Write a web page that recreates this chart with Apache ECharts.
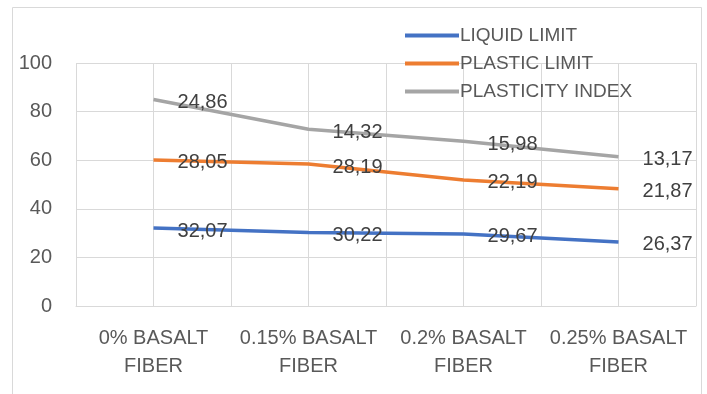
<!DOCTYPE html>
<html>
<head>
<meta charset="utf-8">
<script src="https://cdn.jsdelivr.net/npm/echarts@6/dist/echarts.min.js"></script>
<style>html,body{margin:0;padding:0;background:#fff}#c{width:707px;height:394px}</style>
</head>
<body>
<div id="c"></div>
<script>
var categories = ['0% BASALT\nFIBER', '0.15% BASALT\nFIBER', '0.2% BASALT\nFIBER', '0.25% BASALT\nFIBER'];
var liquidLimit = [32.07, 30.22, 29.67, 26.37];
var plasticLimit = [28.05, 28.19, 22.19, 21.87];
var plasticityIndex = [24.86, 14.32, 15.98, 13.17];
var seriesNames = ['LIQUID LIMIT', 'PLASTIC LIMIT', 'PLASTICITY INDEX'];
var colors = ['#4472C4', '#ED7D31', '#A5A5A5'];

var FONT = 'Liberation Sans';
var chart = echarts.init(document.getElementById('c'));
function fmt(p){ return p.value.toFixed(2).replace('.', ','); }
function mk(name, data, color){
  return {
    name: name, type: 'line', stack: 'total', data: data,
    xAxisIndex: 0,
    symbol: 'circle', symbolSize: 0.01, showSymbol: true,
    lineStyle: {width: 3.5, color: color},
    itemStyle: {color: color},
    label: {show: true, position: 'right', distance: 24, offset: [0, 3],
      formatter: fmt, fontFamily: FONT, fontSize: 20, color: '#404040'}
  };
}
chart.setOption({
  animation: false,
  graphic: [{type: 'rect', shape: {x: 12.5, y: 7.5, width: 689, height: 400},
    style: {fill: 'none', stroke: '#D9D9D9', lineWidth: 1}, silent: true, z: -1}],
  legend: {
    orient: 'vertical', left: 400, top: 21, itemWidth: 54, itemHeight: 4, itemGap: 9,
    icon: 'rect',
    textStyle: {fontFamily: FONT, fontSize: 19, color: '#595959', padding: [0,0,0,-4]},
    data: seriesNames
  },
  grid: {left: 76, right: 11, top: 63, bottom: 88},
  xAxis: [{
    type: 'category', data: categories, boundaryGap: true,
    axisLine: {show: true, lineStyle: {color: '#D9D9D9'}},
    axisTick: {show: false},
    splitLine: {show: false},
    axisLabel: {interval: 0, fontFamily: FONT, fontSize: 20, color: '#595959', lineHeight: 28, margin: 18}
  }, {
    type: 'value', min: 0, max: 8, interval: 1, position: 'bottom',
    axisLine: {show: false}, axisTick: {show: false}, axisLabel: {show: false},
    splitLine: {show: true, lineStyle: {color: '#D9D9D9', width: 1}}
  }],
  yAxis: {
    type: 'value', min: 0, max: 100, interval: 20,
    axisLine: {show: false}, axisTick: {show: false},
    axisLabel: {fontFamily: FONT, fontSize: 20, color: '#595959', margin: 24},
    splitLine: {lineStyle: {color: '#D9D9D9', width: 1}}
  },
  series: [
    mk(seriesNames[0], liquidLimit, colors[0]),
    mk(seriesNames[1], plasticLimit, colors[1]),
    mk(seriesNames[2], plasticityIndex, colors[2])
  ]
});
</script>
</body>
</html>
